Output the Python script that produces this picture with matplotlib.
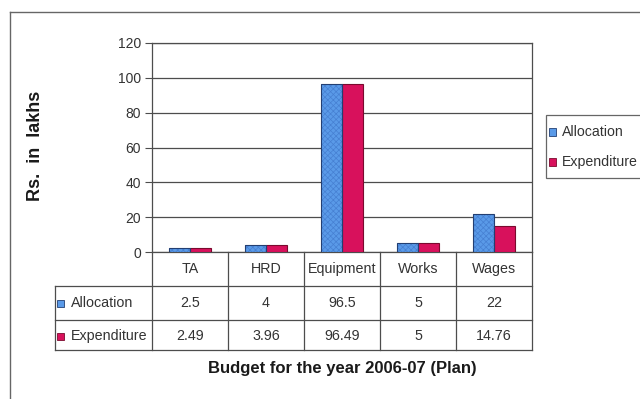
import matplotlib
matplotlib.use("Agg")
import matplotlib.pyplot as plt
import matplotlib.transforms as mtransforms
from matplotlib.patches import Rectangle
from matplotlib.lines import Line2D
import numpy as np

plt.rcParams['font.family'] = ['Liberation Sans', 'DejaVu Sans']
plt.rcParams['hatch.linewidth'] = 0.5

categories = ["TA", "HRD", "Equipment", "Works", "Wages"]
allocation = [2.5, 4, 96.5, 5, 22]
expenditure = [2.49, 3.96, 96.49, 5, 14.76]
alloc_labels = ["2.5", "4", "96.5", "5", "22"]
exp_labels = ["2.49", "3.96", "96.49", "5", "14.76"]
yticks = [0, 20, 40, 60, 80, 100, 120]

W, H = 640, 399
fig = plt.figure(figsize=(W / 100, H / 100), dpi=100)
fig.patch.set_facecolor("white")


def fx(px):
    return px / W


def fy(py):
    return 1 - py / H


ax = fig.add_axes([fx(152), fy(252), fx(532) - fx(152), fy(43) - fy(252)])

blue = "#5a9ae8"
blue_hatch = "#4680d2"
blue_edge = "#233f72"
red = "#d8115c"
red_edge = "#7a0a2e"
line_col = "#4d4d4d"

x = np.arange(len(categories))
bw = 0.28
ax.bar(x - bw / 2, allocation, bw, facecolor=blue, edgecolor=blue_hatch,
       hatch="xxxxxx", linewidth=0, zorder=3)
ax.bar(x - bw / 2, allocation, bw, fill=False, edgecolor=blue_edge,
       linewidth=0.8, zorder=4)
ax.bar(x + bw / 2, expenditure, bw, facecolor=red, edgecolor=red_edge,
       linewidth=0.8, zorder=3)

ax.set_xlim(-0.5, len(categories) - 0.5)
ax.set_ylim(0, 120)
ax.set_yticks(yticks)
ax.set_yticklabels([str(t) for t in yticks], fontsize=10, color="#333333")
ax.set_xticks([])
ax.yaxis.grid(True, color=line_col, linewidth=0.9, zorder=0)
ax.tick_params(axis="y", length=5, width=0.8, color=line_col, pad=3)
for s in ax.spines.values():
    s.set_color(line_col)
    s.set_linewidth(0.9)

# rotated axis title placed in figure coordinates
fig.text(fx(36), fy(146), "Rs.  in  lakhs", rotation=90, ha="center",
         va="center", fontsize=13, fontweight="bold", color="#1a1a1a")

# data table beneath the chart
bt = mtransforms.blended_transform_factory(ax.transData, fig.transFigure)
ft = fig.transFigure
tl = dict(color=line_col, linewidth=0.9, clip_on=False)

bounds = np.arange(len(categories) + 1) - 0.5
for b in bounds:
    fig.add_artist(Line2D([b, b], [fy(252), fy(350)], transform=bt, **tl))
for yy in (286, 320, 350):
    fig.add_artist(Line2D([fx(55), fx(532)], [fy(yy), fy(yy)], transform=ft, **tl))
fig.add_artist(Line2D([fx(55), fx(55)], [fy(286), fy(350)], transform=ft, **tl))

tc = "#333333"
fs = 10.3
for i, c in enumerate(categories):
    fig.text(x[i], fy(269), c, transform=bt, ha="center", va="center",
             fontsize=fs, color=tc)
    fig.text(x[i], fy(303), alloc_labels[i], transform=bt, ha="center",
             va="center", fontsize=fs, color=tc)
    fig.text(x[i], fy(336), exp_labels[i], transform=bt, ha="center",
             va="center", fontsize=fs, color=tc)

# row keys
for row_y, label, fc, ec in ((303, "Allocation", blue, blue_edge),
                             (336, "Expenditure", red, red_edge)):
    fig.add_artist(Rectangle((fx(57), fy(row_y + 3.5)), fx(7), fy(0) - fy(7),
                             transform=ft, facecolor=fc, edgecolor=ec,
                             linewidth=0.6))
    fig.text(fx(71), fy(row_y), label, ha="left", va="center", fontsize=fs,
             color=tc)

# legend box
fig.add_artist(Rectangle((fx(546), fy(178)), fx(120), fy(115) - fy(178),
                         transform=ft, facecolor="white", edgecolor="#666666",
                         linewidth=0.9, clip_on=True))
for row_y, label, fc, ec in ((132, "Allocation", blue, blue_edge),
                             (162, "Expenditure", red, red_edge)):
    fig.add_artist(Rectangle((fx(549), fy(row_y + 3.5)), fx(7), fy(0) - fy(7),
                             transform=ft, facecolor=fc, edgecolor=ec,
                             linewidth=0.6))
    fig.text(fx(562), fy(row_y), label, ha="left", va="center", fontsize=10.2,
             color=tc)

fig.text(fx(342), fy(368), "Budget for the year 2006-07 (Plan)", ha="center",
         va="center", fontsize=12, fontweight="bold", color="#1a1a1a")

# outer chart frame
fig.add_artist(Line2D([fx(10), fx(10)], [fy(12), fy(399)], transform=ft,
                      color="#666666", linewidth=1.0))
fig.add_artist(Line2D([fx(10), fx(640)], [fy(12), fy(12)], transform=ft,
                      color="#666666", linewidth=1.0))

fig.savefig("out.png", dpi=100, facecolor="white")
